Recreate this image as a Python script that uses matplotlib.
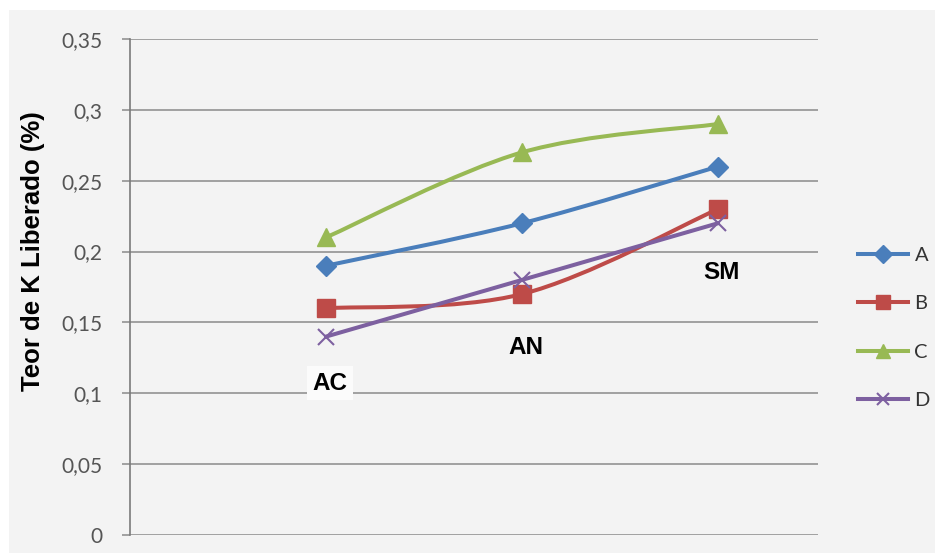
import numpy as np
import matplotlib
matplotlib.use('Agg')
import matplotlib.pyplot as plt
from matplotlib.path import Path
from matplotlib.patches import PathPatch, Rectangle
from matplotlib.lines import Line2D

# dados
categorias = ['AC', 'AN', 'SM']
series = ['A', 'B', 'C', 'D']
A = [0.19, 0.22, 0.26]
B = [0.16, 0.17, 0.23]
C = [0.21, 0.27, 0.29]
D = [0.14, 0.18, 0.22]
y_ticks = [0, 0.05, 0.1, 0.15, 0.2, 0.25, 0.3, 0.35]
y_labels = ['0', '0,05', '0,1', '0,15', '0,2', '0,25', '0,3', '0,35']
# posicao dos rotulos das categorias (valor no eixo y)
cat_label_y = [0.107, 0.132, 0.185]

cores = ['#4a7ebb', '#be4b48', '#98b954', '#7d60a0']
marcadores = ['D', 's', '^', 'x']
tamanhos = [10.5, 12.5, 12.5, 11]
bg = '#f3f3f3'

plt.rcParams['font.family'] = ['Lato', 'DejaVu Sans']

def suave(x, y):
    # curva suavizada tipo Excel (segmentos de Bezier cubicos)
    p = np.column_stack([x, y])
    n = len(p)
    verts = [p[0]]
    codes = [Path.MOVETO]
    for i in range(n - 1):
        p0 = p[i - 1] if i > 0 else p[i]
        p3 = p[i + 2] if i + 2 < n else p[i + 1]
        c1 = p[i] + (p[i + 1] - p0) / 6
        c2 = p[i + 1] - (p3 - p[i]) / 6
        verts += [c1, c2, p[i + 1]]
        codes += [Path.CURVE4] * 3
    return Path(verts, codes)

fig = plt.figure(figsize=(9.35, 5.53), dpi=100, facecolor='white')
fig.patches.append(Rectangle((9 / 935, 0), 1, 1 - 10 / 553, transform=fig.transFigure,
                             facecolor=bg, edgecolor='none', zorder=-10))
ax = fig.add_axes([130 / 935, 18 / 553, 688 / 935, 496 / 553])
ax.set_facecolor(bg)

x = np.arange(1, len(categorias) + 1)
handles = []
for dados, nome, cor, m, ms in zip([A, B, C, D], series, cores, marcadores, tamanhos):
    ax.add_patch(PathPatch(suave(x, dados), facecolor='none', edgecolor=cor,
                           lw=2.9, capstyle='round', joinstyle='round', zorder=3))
    ax.plot(x, dados, ls='none', marker=m, ms=ms, color=cor, mew=1.5 if m == 'x' else 1,
            zorder=4)
    handles.append(Line2D([], [], color=cor, lw=2.9, marker=m, ms=ms * 0.85,
                          mew=1.5 if m == 'x' else 1))

for xi, yi, txt in zip(x, cat_label_y, categorias):
    ax.text(xi + 0.02, yi, txt, ha='center', va='center', fontsize=17.5,
            fontweight='bold', family=['Liberation Sans', 'DejaVu Sans'],
            bbox=dict(facecolor='#fbfbfb' if txt == 'AC' else bg, edgecolor='none', pad=4),
            zorder=5)

ax.set_xlim(0, 3.51)
ax.set_ylim(0, 0.35)
ax.set_yticks(y_ticks)
ax.set_yticklabels(y_labels)
ax.set_xticks([])
ax.grid(axis='y', color='#8a8a8a', lw=1.1)
ax.set_axisbelow(True)
ax.tick_params(axis='y', length=6, width=1.1, color='#8a8a8a', labelsize=15,
               labelcolor='#555555', pad=14)
for s in ['top', 'right', 'bottom']:
    ax.spines[s].set_visible(False)
ax.spines['left'].set_color('#7a7a7a')
ax.spines['left'].set_linewidth(1.2)

fig.text(33 / 935, 1 - 251 / 553, 'Teor de K Liberado (%)', rotation=90,
         ha='center', va='center', fontsize=18.5, fontweight='bold',
         family=['Liberation Sans', 'DejaVu Sans'])

leg = fig.legend(handles, series, loc='center left', bbox_to_anchor=(848 / 935, 1 - 328 / 553),
                 frameon=False, fontsize=14.5, handlelength=2.5, handletextpad=0.3,
                 labelspacing=1.55, borderpad=0)
for t in leg.get_texts():
    t.set_color('#333333')

plt.savefig('out.png', dpi=100, facecolor=fig.get_facecolor())
